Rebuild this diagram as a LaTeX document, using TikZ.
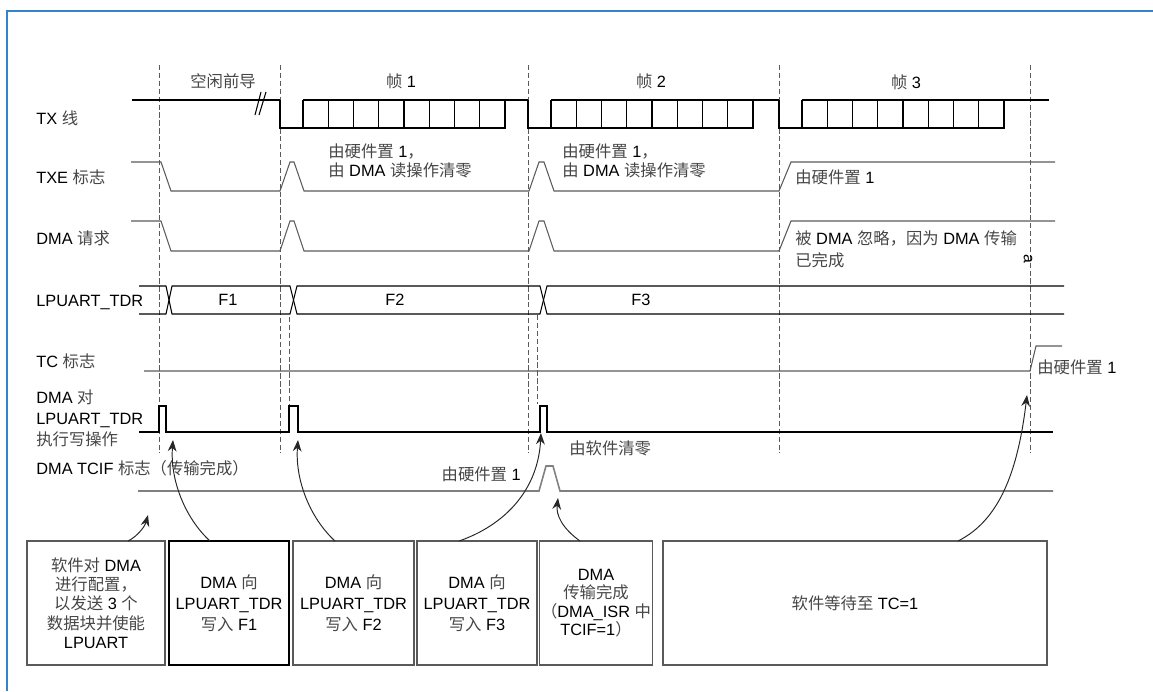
\documentclass[tikz,border=0pt]{standalone}
\usepackage{fontspec}
\usepackage{xcolor}
\setmainfont{Liberation Sans}
\newfontfamily\cjkfont{Noto Sans CJK SC}
\usetikzlibrary{arrows.meta, positioning, calc}
\definecolor{frameblue}{RGB}{52, 132, 204}
\definecolor{siggray}{RGB}{90, 90, 90}
\definecolor{zhgray}{RGB}{70, 70, 70}
\newcommand{\zh}[1]{{\cjkfont\color{zhgray}#1}}

\begin{document}
\begin{tikzpicture}[
    x=0.02cm, y=-0.02cm,
    lbl/.style={anchor=west, inner sep=0pt, align=left, font=\fontsize{9.3}{11}\selectfont},
    mid/.style={inner sep=0pt, align=center, font=\fontsize{9.3}{11}\selectfont},
    sig/.style={draw=siggray, line width=0.6pt},
    txline/.style={draw=black, line width=0.6pt},
    guide/.style={draw=siggray, dashed, dash pattern=on 3pt off 1.5pt, line width=0.5pt},
    stepbox/.style={rectangle, draw=siggray, line width=0.7pt, minimum height=2.48cm, inner sep=1pt, outer sep=0pt, align=center, font=\fontsize{9.3}{12}\selectfont},
    arrow/.style={-{Stealth[length=6.5pt, width=5pt]}, draw=black!85, line width=0.55pt}
]
    \useasboundingbox (0,0) rectangle (1153,691);
    \draw[frameblue, line width=1pt] (7,691) -- (7,11) -- (1153,11);

    % guides
    \foreach \x in {159,280,528,779,1030}
        \draw[guide] (\x,65) -- (\x,453);
    \draw[guide] (289,317) -- (289,404);
    \draw[guide] (537,315) -- (537,404);

    % signal names
    \node[lbl] (nTX) at (36,118) {TX \zh{线}};
    \node[lbl] (nTXE) at (36,177) {TXE \zh{标志}};
    \node[lbl] (nREQ) at (36,238) {DMA \zh{请求}};
    \node[lbl] (nTDR) at (36,302) {LPUART\_TDR};
    \node[lbl] (nTC) at (36,361) {TC \zh{标志}};
    \node[lbl, font=\fontsize{9.3}{12}\selectfont] (nWR) at (36,418) {DMA \zh{对}\\LPUART\_TDR\\\zh{执行写操作}};
    \node[lbl] (nTCIF) at (36,468) {DMA TCIF \zh{标志（传输完成）}};

    % phases
    \node[mid] (idle) at (223,81) {\zh{空闲前导}};
    \node[mid] (fr1) at (401,81) {\zh{帧} 1};
    \node[mid] (fr2) at (651,81) {\zh{帧} 2};
    \node[mid] (fr3) at (906,82) {\zh{帧} 3};

    % TX line
    \draw[txline] (132,100) -- (280,100);
    \draw[txline] (255,115) -- (261,92);
    \draw[txline] (259,115) -- (266,92);
    \foreach \s/\e in {280/528, 528/779, 779/1049} {
        \draw[txline] (\s,100) -- (\s,128) -- (\s+225,128) -- (\s+225,100);
        \draw[txline] (\s+23,100) -- (\e,100);
        \foreach \k in {0,...,7}
            \draw[txline] (\s+23+\k*25.25,100) -- ++(0,28);
    }

    % TXE flag and DMA request
    \foreach \hi/\lo in {162/191, 221/251}
        \draw[sig] (131,\hi) -- (161,\hi) -- (171,\lo) -- (280,\lo) -- (290,\hi) -- (294,\hi) -- (304,\lo)
            -- (529,\lo) -- (539,\hi) -- (544,\hi) -- (554,\lo) -- (779,\lo) -- (791,\hi) -- (1055,\hi);

    % LPUART_TDR
    \draw[txline] (139,286) -- (166,286) -- (172,314) -- (290,314) -- (297,286) -- (540,286) -- (547,314) -- (1064,314);
    \draw[txline] (139,314) -- (166,314) -- (172,286) -- (290,286) -- (297,314) -- (540,314) -- (547,286) -- (1064,286);
    \node[mid] (dF1) at (228,300) {F1};
    \node[mid] (dF2) at (395,300) {F2};
    \node[mid] (dF3) at (641,300) {F3};

    % TC flag
    \draw[sig] (144,371) -- (1030,371) -- (1036,346) -- (1062,346);

    % DMA write
    \draw[txline] (139,432) -- (159,432) -- (159,406) -- (166,406) -- (166,432) -- (289,432) -- (289,406) -- (298,406)
        -- (298,432) -- (540,432) -- (540,406) -- (547,406) -- (547,432) -- (1053,432);

    % DMA TCIF
    \draw[draw=black!50, line width=0.9pt] (138,491) -- (539,491) -- (546,466) -- (553,466) -- (560,491) -- (1053,491);

    % notes
    \node[lbl] (hw1) at (328,161) {\zh{由硬件置} 1\zh{，}\\\zh{由} DMA \zh{读操作清零}};
    \node[lbl] (hw2) at (562,161) {\zh{由硬件置} 1\zh{，}\\\zh{由} DMA \zh{读操作清零}};
    \node[lbl] (hw3) at (795,177) {\zh{由硬件置} 1};
    \node[lbl, font=\fontsize{9.3}{12.5}\selectfont] (ign) at (795,249) {\zh{被} DMA \zh{忽略，因为} DMA \zh{传输}\\\zh{已完成}};
    \node[mid, rotate=-90, font=\fontsize{9}{10}\selectfont] (fnA) at (1028,259) {a};
    \node[lbl] (hwTC) at (1037,367) {\zh{由硬件置} 1};
    \node[lbl, anchor=east] (hwTCIF) at (521,474) {\zh{由硬件置} 1};
    \node[lbl] (swTCIF) at (569,448) {\zh{由软件清零}};

    % software / DMA steps
    \node[stepbox, minimum width=2.76cm, font=\fontsize{9.3}{11}\selectfont] (cfg) at (96,603)
        {\zh{软件对} DMA\\\zh{进行配置，}\\\zh{以发送} 3 \zh{个}\\\zh{数据块并使能}\\LPUART};
    \node[stepbox, minimum width=2.4cm, draw=black, line width=1.2pt] (wr1) at (229,603) {DMA \zh{向}\\LPUART\_TDR\\\zh{写入} F1};
    \node[stepbox, minimum width=2.42cm] (wr2) at (353.5,603) {DMA \zh{向}\\LPUART\_TDR\\\zh{写入} F2};
    \node[stepbox, minimum width=2.4cm] (wr3) at (477,603) {DMA \zh{向}\\LPUART\_TDR\\\zh{写入} F3};
    \node[stepbox, minimum width=2.2cm, font=\fontsize{9.3}{10.5}\selectfont] (done) at (596,603)
        {DMA\\\zh{传输完成}\\\zh{（}DMA\_ISR \zh{中}\\TCIF=1\zh{）}};
    \node[stepbox, minimum width=7.68cm] (wait) at (855,603) {\zh{软件等待至} TC=1};

    % targets
    \coordinate (tCfg) at (148,515);
    \coordinate (tW1) at (173,440);
    \coordinate (tW2) at (298,440);
    \coordinate (tW3) at (541,433);
    \coordinate (tDone) at (558,498);
    \coordinate (tTC) at (1027,395);

    \draw[arrow] ($(cfg.north)+(32,0)$) .. controls (138,536) and (145,526) .. (tCfg);
    \draw[arrow] ($(wr1.north)+(-19,0)$) .. controls (185,518) and (170,480) .. (tW1);
    \draw[arrow] ($(wr2.north)+(-18.5,0)$) .. controls (310,518) and (295,480) .. (tW2);
    \draw[arrow] ($(wr3.north)+(-18,0)$) .. controls (505,525) and (538,490) .. (tW3);
    \draw[arrow] ($(done.north)+(-16,0)$) .. controls (562,528) and (556,515) .. (tDone);
    \draw[arrow] ($(wait.north)+(103,0)$) .. controls (1000,520) and (1018,470) .. (tTC);
\end{tikzpicture}
\end{document}
